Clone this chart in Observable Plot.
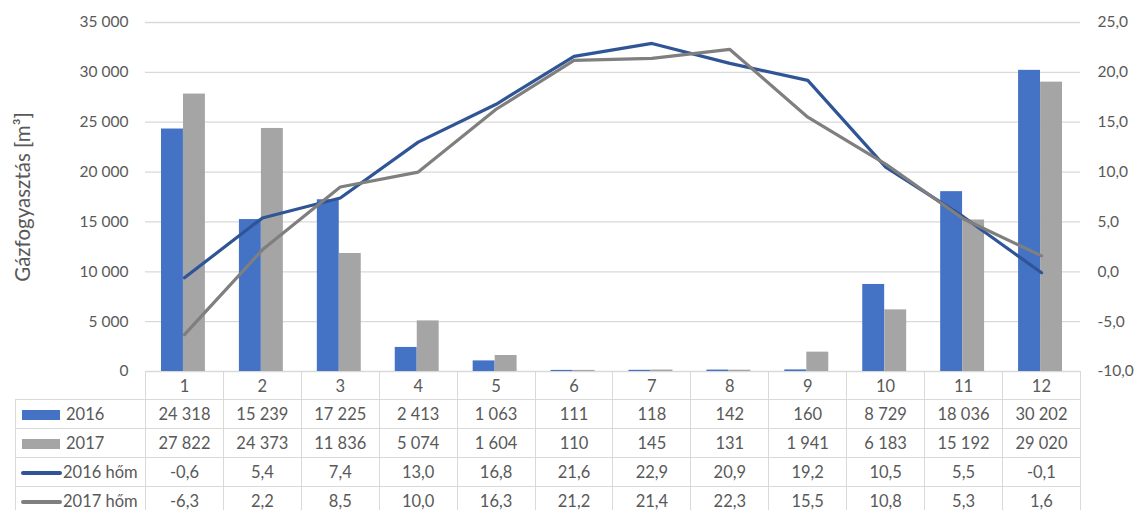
<!DOCTYPE html>
<html>
<head>
<meta charset="utf-8">
<script src="https://cdn.jsdelivr.net/npm/d3@7"></script>
<script src="https://cdn.jsdelivr.net/npm/@observablehq/plot@0.6"></script>
<style>
  html, body { margin: 0; padding: 0; background: #fff; }
  body { width: 1137px; height: 510px; position: relative; overflow: hidden; font-family: Lato, "Open Sans", sans-serif; color: #595959; }
  #chart { position: absolute; left: 0; top: 0; }
  #ytitle { position: absolute; left: 22px; top: 197px; transform: translate(-50%, -50%) rotate(-90deg); font-size: 20.5px; white-space: nowrap; color: #595959; }
  #tbl { position: absolute; left: 15px; top: 371px; border-collapse: collapse; table-layout: fixed; width: 1065px; font-size: 16.5px; color: #595959; }
  #tbl td { border: 1px solid #D9D9D9; text-align: center; padding: 0; white-space: nowrap; }
  #tbl td.blank { border: none; border-right: 1px solid #D9D9D9; }
  #tbl td.leg { text-align: left; }
  #tbl tr.head { height: 28px; }
  #tbl tr.body { height: 29px; }
  .keybar { display: inline-block; width: 38px; height: 10px; margin-left: 6px; margin-right: 6px; vertical-align: middle; position: relative; top: -1px; }
  .keyline { display: inline-block; width: 41px; height: 4px; border-radius: 2px; margin-left: 5px; margin-right: 1px; vertical-align: middle; position: relative; top: -1px; }
</style>
</head>
<body>
<div id="chart"></div>
<div id="ytitle">Gázfogyasztás [m³]</div>
<table id="tbl"></table>
<script>
// ---- data ----
const months = [1, 2, 3, 4, 5, 6, 7, 8, 9, 10, 11, 12];
const gas2016 = [24318, 15239, 17225, 2413, 1063, 111, 118, 142, 160, 8729, 18036, 30202];
const gas2017 = [27822, 24373, 11836, 5074, 1604, 110, 145, 131, 1941, 6183, 15192, 29020];
const temp2016 = [-0.6, 5.4, 7.4, 13.0, 16.8, 21.6, 22.9, 20.9, 19.2, 10.5, 5.5, -0.1];
const temp2017 = [-6.3, 2.2, 8.5, 10.0, 16.3, 21.2, 21.4, 22.3, 15.5, 10.8, 5.3, 1.6];
const seriesNames = ["2016", "2017", "2016 hőm", "2017 hőm"];
const leftTicks = [0, 5000, 10000, 15000, 20000, 25000, 30000, 35000];
const rightTicks = [-10, -5, 0, 5, 10, 15, 20, 25];
const yTitle = "Gázfogyasztás [m³]";

const colors = { b16: "#4472C4", b17: "#A5A5A5", l16: "#2F5597", l17: "#7F7F7F" };

const loc = d3.formatLocale({ decimal: ",", thousands: "\u00a0", grouping: [3], currency: ["", ""], minus: "-" });
const fmtInt = loc.format(",d");
const fmt1 = loc.format(".1f");

// temperature axis mapped onto the gas axis domain
const tScale = d3.scaleLinear().domain([-10, 25]).range([0, 35000]);

const rows = months.map((m, i) => ({
  month: m, g2016: gas2016[i], g2017: gas2017[i], t2016: temp2016[i], t2017: temp2017[i]
}));

const chart = Plot.plot({
  width: 1137,
  height: 384,
  marginLeft: 145,
  marginRight: 57,
  marginTop: 22,
  marginBottom: 13,
  style: { fontFamily: "Lato, 'Open Sans', sans-serif", fontSize: "15.5px", color: "#595959", background: "transparent", overflow: "visible" },
  x: { type: "band", domain: months, padding: 0, round: false, axis: null },
  y: { domain: [0, 35000], axis: null },
  marks: [
    Plot.gridY(leftTicks, { stroke: "#D9D9D9", strokeOpacity: 1, strokeWidth: 1.3 }),
    Plot.axisY(leftTicks, { anchor: "left", tickSize: 0, tickPadding: 17, tickFormat: fmtInt, label: null, fill: "#595959" }),
    Plot.axisY(rightTicks.map(tScale), { anchor: "right", tickSize: 0, tickPadding: 17, textAnchor: "start", tickFormat: v => fmt1(tScale.invert(v)), label: null, fill: "#595959" }),
    Plot.barY(rows, { x: "month", y: "g2016", fill: colors.b16, insetLeft: 16, insetRight: 40 }),
    Plot.barY(rows, { x: "month", y: "g2017", fill: colors.b17, insetLeft: 38, insetRight: 18 }),
    Plot.line(rows, { x: "month", y: d => tScale(d.t2016), stroke: colors.l16, strokeWidth: 3.2, strokeLinejoin: "round", strokeLinecap: "round" }),
    Plot.line(rows, { x: "month", y: d => tScale(d.t2017), stroke: colors.l17, strokeWidth: 3.2, strokeLinejoin: "round", strokeLinecap: "round" })
  ]
});
document.getElementById("chart").appendChild(chart);
document.getElementById("ytitle").textContent = yTitle;

// ---- data table ----
const tbl = document.getElementById("tbl");
const colg = document.createElement("colgroup");
colg.innerHTML = `<col style="width:130px">` + months.map(() => `<col style="width:77.917px">`).join("");
tbl.appendChild(colg);
let html = `<tr class="head"><td class="blank"></td>` + months.map(m => `<td>${m}</td>`).join("") + `</tr>`;
const tableRows = [
  { name: seriesNames[0], key: `<span class="keybar" style="background:${colors.b16}"></span>`, vals: gas2016.map(fmtInt) },
  { name: seriesNames[1], key: `<span class="keybar" style="background:${colors.b17}"></span>`, vals: gas2017.map(fmtInt) },
  { name: seriesNames[2], key: `<span class="keyline" style="background:${colors.l16}"></span>`, vals: temp2016.map(fmt1) },
  { name: seriesNames[3], key: `<span class="keyline" style="background:${colors.l17}"></span>`, vals: temp2017.map(fmt1) }
];
for (const r of tableRows) {
  html += `<tr class="body"><td class="leg">${r.key}${r.name}</td>` + r.vals.map(v => `<td>${v}</td>`).join("") + `</tr>`;
}
tbl.innerHTML += html;
</script>
</body>
</html>
